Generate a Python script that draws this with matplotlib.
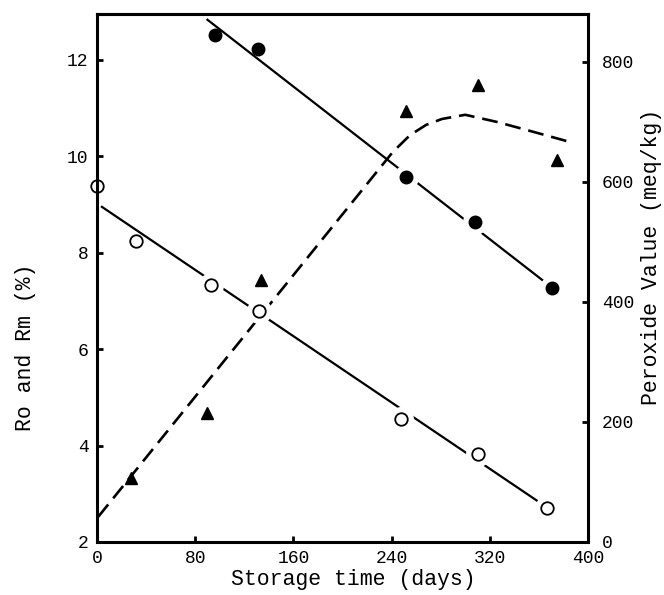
import numpy as np
import matplotlib
matplotlib.use("Agg")
import matplotlib.pyplot as plt

plt.rcParams['font.family'] = ['Liberation Mono', 'DejaVu Sans Mono']

# Rm (filled circles), left axis, %
rm_days = [96, 131, 252, 308, 371]
rm_vals = [12.52, 12.23, 9.57, 8.64, 7.27]
rm_fit_days = [90, 371]
rm_fit_vals = [12.83, 7.27]

# Ro (open circles), left axis, %
ro_days = [0, 32, 93, 132, 248, 310, 367]
ro_vals = [9.39, 8.24, 7.33, 6.79, 4.55, 3.83, 2.71]
ro_fit_days = [4, 367]
ro_fit_vals = [8.95, 2.71]

# Peroxide value (triangles), right axis, meq/kg
pv_days = [28, 90, 134, 252, 310, 375]
pv_vals = [107, 215, 437, 718, 762, 637]
pv_curve_days = [1, 241, 255, 268, 281, 300, 326, 353, 383]
pv_curve_vals = [42, 650, 678, 695, 705, 712, 700, 685, 668]

left_ticks = [2, 4, 6, 8, 10, 12]
right_ticks = [0, 200, 400, 600, 800]
x_ticks = [0, 80, 160, 240, 320, 400]

# which points sit on a line and cut a gap in it
rm_gap = [False, False, True, True, True]
ro_gap = [True, False, True, True, True, True, True]

fig = plt.figure(figsize=(6.64, 5.95), dpi=100)
ax = fig.add_axes([0.1461, 0.0891, 0.7394, 0.8874])
ax2 = ax.twinx()
ax2.set_zorder(ax.get_zorder() - 1)
ax.patch.set_visible(False)

ax.set_xlim(0, 400)
ax.set_ylim(2, 12.95)
ax2.set_ylim(0, 880)

# fitted lines
ax.plot(rm_fit_days, rm_fit_vals, color='black', lw=1.6, zorder=2)
ax.plot(ro_fit_days, ro_fit_vals, color='black', lw=1.6, zorder=2)
ax2.plot(pv_curve_days, pv_curve_vals, color='black', lw=1.9,
         dashes=(6, 3), zorder=2)

# white halos so the lines break around the circles
hx = [d for d, g in zip(rm_days, rm_gap) if g] + [d for d, g in zip(ro_days, ro_gap) if g]
hy = [v for v, g in zip(rm_vals, rm_gap) if g] + [v for v, g in zip(ro_vals, ro_gap) if g]
ax.plot(hx, hy, 'o', ms=17, color='white', mec='white', zorder=2.2, clip_on=False)

# markers
ax.plot(rm_days, rm_vals, 'o', ms=9, color='black', zorder=4, clip_on=False)
ax.plot(ro_days, ro_vals, 'o', ms=9, mfc='none', mec='black', mew=1.3,
        zorder=4, clip_on=False)
ax2.plot(pv_days, pv_vals, '^', ms=9, color='black', zorder=4, clip_on=False)

for a in (ax, ax2):
    for s in a.spines.values():
        s.set_linewidth(2.2)
ax.spines['right'].set_visible(False)
ax2.spines['left'].set_visible(False)
ax2.spines['bottom'].set_visible(False)

ax.set_xticks(x_ticks)
ax.set_yticks(left_ticks)
ax2.set_yticks(right_ticks)
ax.tick_params(axis='both', direction='in', length=4, width=2, labelsize=13, pad=6)
ax2.tick_params(axis='y', direction='in', length=4, width=2, labelsize=13, pad=10)

fig.text(353 / 664, 1 - 580 / 595, 'Storage time (days)', ha='center', va='center', fontsize=15.5)
fig.text(25 / 664, 1 - 347 / 595, 'Ro and Rm (%)', ha='center', va='center',
         rotation=90, fontsize=15.5)
fig.text(652 / 664, 1 - 257 / 595, 'Peroxide Value (meq/kg)', ha='center', va='center',
         rotation=90, fontsize=15.5)

fig.savefig('out.png', dpi=100)
